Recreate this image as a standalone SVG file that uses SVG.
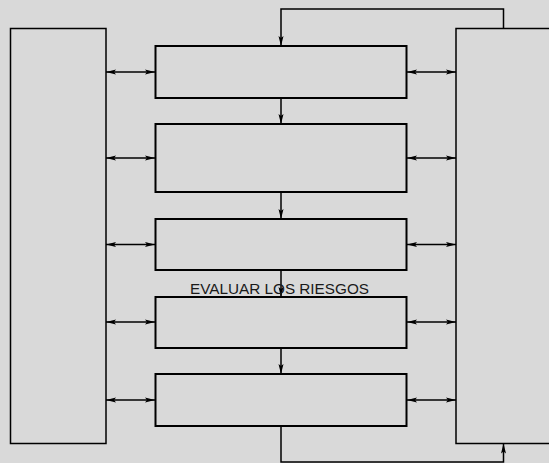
<svg xmlns="http://www.w3.org/2000/svg" width="549" height="463" viewBox="0 0 549 463">
<style>
.bg{fill:#d9d9d9}
.box{fill:#d9d9d9;stroke:#000;stroke-width:2}
.side{fill:#d9d9d9;stroke:#000;stroke-width:1.5}
.c{fill:none;stroke:#000;stroke-width:1.5}
.lbl{font-family:"Liberation Sans",Arial,sans-serif;font-size:14.5px;fill:#1a1a1a}
</style>
<defs>
<marker id="ah" viewBox="0 0 10 6" refX="10" refY="3" markerWidth="10" markerHeight="6" markerUnits="userSpaceOnUse" orient="auto-start-reverse">
<path d="M0,0.5 L10,3 L0,5.5 L2,3 Z" fill="#000"/>
</marker>
</defs>
<rect class="bg" x="0" y="0" width="549" height="463"/>
<g id="left-panel"><rect class="side" x="10.5" y="28.5" width="95.5" height="415"/></g>
<g id="right-panel"><rect class="side" x="456" y="28.5" width="100" height="415"/></g>
<g id="box1"><rect class="box" x="155.5" y="46" width="251" height="52"/></g>
<g id="box2"><rect class="box" x="155.5" y="124" width="251" height="68"/></g>
<g id="box3"><rect class="box" x="155.5" y="219" width="251" height="51"/></g>
<g id="box4"><rect class="box" x="155.5" y="297" width="251" height="51"/></g>
<g id="box5"><rect class="box" x="155.5" y="374" width="251" height="52"/></g>
<g id="connectors">
<path class="c" d="M106,72 H155" marker-start="url(#ah)" marker-end="url(#ah)"/>
<path class="c" d="M106,158 H155" marker-start="url(#ah)" marker-end="url(#ah)"/>
<path class="c" d="M106,244.5 H155" marker-start="url(#ah)" marker-end="url(#ah)"/>
<path class="c" d="M106,322 H155" marker-start="url(#ah)" marker-end="url(#ah)"/>
<path class="c" d="M106,400 H155" marker-start="url(#ah)" marker-end="url(#ah)"/>
<path class="c" d="M407,72 H456" marker-start="url(#ah)" marker-end="url(#ah)"/>
<path class="c" d="M407,158 H456" marker-start="url(#ah)" marker-end="url(#ah)"/>
<path class="c" d="M407,244.5 H456" marker-start="url(#ah)" marker-end="url(#ah)"/>
<path class="c" d="M407,322 H456" marker-start="url(#ah)" marker-end="url(#ah)"/>
<path class="c" d="M407,400 H456" marker-start="url(#ah)" marker-end="url(#ah)"/>
<path class="c" d="M281,98 V124" marker-end="url(#ah)"/>
<path class="c" d="M281,192 V219" marker-end="url(#ah)"/>
<path class="c" d="M281,270 V297" marker-end="url(#ah)"/>
<path class="c" d="M281,348 V374" marker-end="url(#ah)"/>
<path class="c" d="M503.5,28 V9 H281 V46" marker-end="url(#ah)"/>
<path class="c" d="M281,426 V462 H503.5 V443.5" marker-end="url(#ah)"/>
</g>
<text class="lbl" x="190" y="294" textLength="179" lengthAdjust="spacingAndGlyphs">EVALUAR LOS RIESGOS</text>
</svg>
